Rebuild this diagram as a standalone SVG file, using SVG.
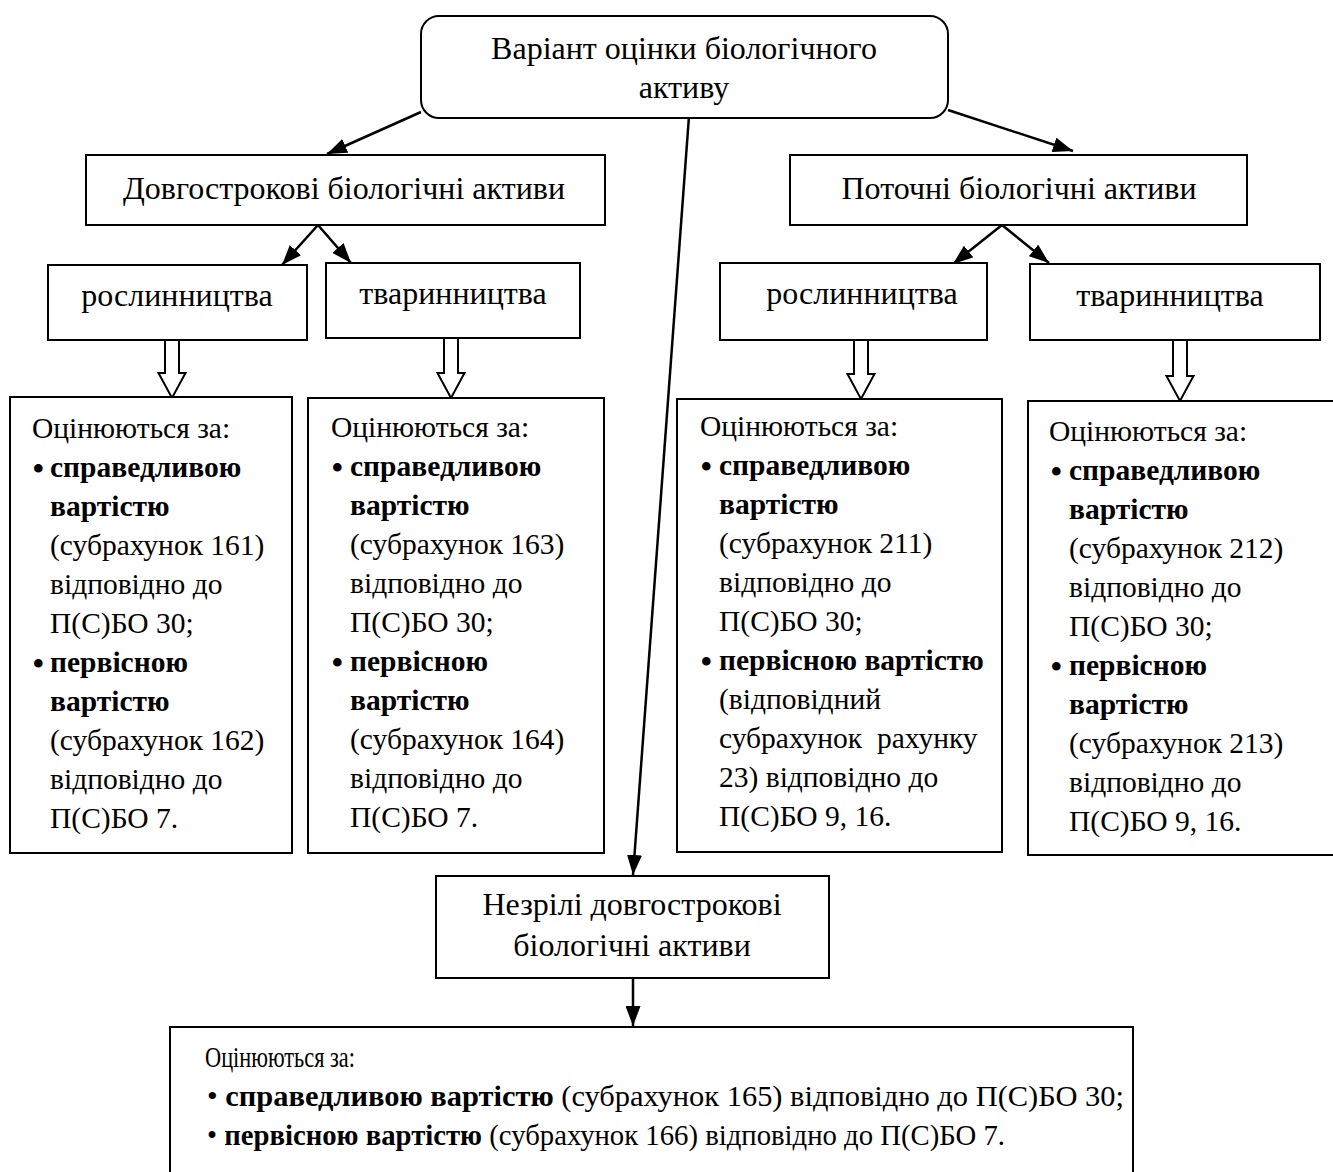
<svg xmlns="http://www.w3.org/2000/svg" width="1333" height="1172" viewBox="0 0 1333 1172">
<defs>
<style>
.box{fill:#fff;stroke:#000;stroke-width:2}
.t{font-family:"Liberation Serif","Times New Roman",serif;fill:#000}
.h{font-size:32px}
.c{font-size:29.5px}
.bu{font-size:36px}
.b{font-weight:bold}
.m{text-anchor:middle}
.ln{stroke:#000;stroke-width:2.5;fill:none}
.ha{fill:#fff;stroke:#000;stroke-width:2}
</style>
<marker id="ah" viewBox="0 0 20 15" refX="20" refY="7.5" markerWidth="20" markerHeight="15" markerUnits="userSpaceOnUse" orient="auto"><path d="M0,0 L20,7.5 L0,15 z" fill="#000"/></marker>
</defs>
<rect width="1333" height="1172" fill="#fff"/>

<g id="connectors">
<line class="ln" x1="421" y1="112" x2="327" y2="154" marker-end="url(#ah)"/>
<line class="ln" x1="948" y1="110" x2="1073" y2="151" marker-end="url(#ah)"/>
<line class="ln" x1="689" y1="116" x2="633" y2="875" marker-end="url(#ah)"/>
<line class="ln" x1="318" y1="225" x2="282" y2="265" marker-end="url(#ah)"/>
<line class="ln" x1="318" y1="225" x2="351" y2="263" marker-end="url(#ah)"/>
<line class="ln" x1="1002" y1="225" x2="953" y2="264" marker-end="url(#ah)"/>
<line class="ln" x1="1002" y1="225" x2="1049" y2="263" marker-end="url(#ah)"/>
<line class="ln" x1="633" y1="978" x2="633" y2="1026" marker-end="url(#ah)"/>
<path class="ha" d="M165,340 V373 H158.5 L172,398 L185.5,373 H179 V340"/>
<path class="ha" d="M444,338 V373 H437.5 L451,398 L464.5,373 H458 V338"/>
<path class="ha" d="M854,340 V374 H847.5 L861,399 L874.5,374 H868 V340"/>
<path class="ha" d="M1173,340 V376 H1166.5 L1180,401 L1193.5,376 H1187 V340"/>
</g>

<g id="root">
<rect class="box" x="421" y="16" width="527" height="102" rx="18"/>
<text class="t h m" x="684" y="59">Варіант оцінки біологічного</text>
<text class="t h m" x="684" y="98">активу</text>
</g>

<g id="long-term">
<rect class="box" x="86" y="155" width="519" height="70"/>
<text class="t h m" x="344" y="199">Довгострокові біологічні активи</text>
</g>

<g id="current">
<rect class="box" x="790" y="155" width="457" height="70"/>
<text class="t h m" x="1019" y="199">Поточні біологічні активи</text>
</g>

<g id="lt-plants">
<rect class="box" x="48" y="265" width="259" height="75"/>
<text class="t h m" x="177" y="306">рослинництва</text>
</g>
<g id="lt-animals">
<rect class="box" x="326" y="263" width="254" height="75"/>
<text class="t h m" x="453" y="304">тваринництва</text>
</g>
<g id="cur-plants">
<rect class="box" x="720" y="263" width="267" height="77"/>
<text class="t h m" x="862" y="304">рослинництва</text>
</g>
<g id="cur-animals">
<rect class="box" x="1030" y="264" width="290" height="76"/>
<text class="t h m" x="1170" y="306">тваринництва</text>
</g>

<g id="lt-plants-eval">
<rect class="box" x="10" y="397" width="282" height="456"/>
<text class="t c" x="32" y="438">Оцінюються за:</text>
<text class="t bu" x="32" y="481">•</text>
<text class="t c b" x="50" y="477">справедливою</text>
<text class="t c b" x="50" y="516">вартістю</text>
<text class="t c" x="50" y="555">(субрахунок 161)</text>
<text class="t c" x="50" y="594">відповідно до</text>
<text class="t c" x="50" y="633">П(С)БО 30;</text>
<text class="t bu" x="32" y="676">•</text>
<text class="t c b" x="50" y="672">первісною</text>
<text class="t c b" x="50" y="711">вартістю</text>
<text class="t c" x="50" y="750">(субрахунок 162)</text>
<text class="t c" x="50" y="789">відповідно до</text>
<text class="t c" x="50" y="828">П(С)БО 7.</text>
</g>

<g id="lt-animals-eval">
<rect class="box" x="308" y="398" width="296" height="455"/>
<text class="t c" x="331" y="437">Оцінюються за:</text>
<text class="t bu" x="331" y="480">•</text>
<text class="t c b" x="350" y="476">справедливою</text>
<text class="t c b" x="350" y="515">вартістю</text>
<text class="t c" x="350" y="554">(субрахунок 163)</text>
<text class="t c" x="350" y="593">відповідно до</text>
<text class="t c" x="350" y="632">П(С)БО 30;</text>
<text class="t bu" x="331" y="675">•</text>
<text class="t c b" x="350" y="671">первісною</text>
<text class="t c b" x="350" y="710">вартістю</text>
<text class="t c" x="350" y="749">(субрахунок 164)</text>
<text class="t c" x="350" y="788">відповідно до</text>
<text class="t c" x="350" y="827">П(С)БО 7.</text>
</g>

<g id="cur-plants-eval">
<rect class="box" x="677" y="399" width="325" height="453"/>
<text class="t c" x="700" y="436">Оцінюються за:</text>
<text class="t bu" x="700" y="479">•</text>
<text class="t c b" x="719" y="475">справедливою</text>
<text class="t c b" x="719" y="514">вартістю</text>
<text class="t c" x="719" y="553">(субрахунок 211)</text>
<text class="t c" x="719" y="592">відповідно до</text>
<text class="t c" x="719" y="631">П(С)БО 30;</text>
<text class="t bu" x="700" y="674">•</text>
<text class="t c b" x="719" y="670">первісною вартістю</text>
<text class="t c" x="719" y="709">(відповідний</text>
<text class="t c" x="719" y="748" xml:space="preserve">субрахунок  рахунку</text>
<text class="t c" x="719" y="787">23) відповідно до</text>
<text class="t c" x="719" y="826">П(С)БО 9, 16.</text>
</g>

<g id="cur-animals-eval">
<rect class="box" x="1028" y="401" width="310" height="454"/>
<text class="t c" x="1049" y="441">Оцінюються за:</text>
<text class="t bu" x="1050" y="484">•</text>
<text class="t c b" x="1069" y="480">справедливою</text>
<text class="t c b" x="1069" y="519">вартістю</text>
<text class="t c" x="1069" y="558">(субрахунок 212)</text>
<text class="t c" x="1069" y="597">відповідно до</text>
<text class="t c" x="1069" y="636">П(С)БО 30;</text>
<text class="t bu" x="1050" y="679">•</text>
<text class="t c b" x="1069" y="675">первісною</text>
<text class="t c b" x="1069" y="714">вартістю</text>
<text class="t c" x="1069" y="753">(субрахунок 213)</text>
<text class="t c" x="1069" y="792">відповідно до</text>
<text class="t c" x="1069" y="831">П(С)БО 9, 16.</text>
</g>

<g id="immature">
<rect class="box" x="436" y="876" width="393" height="102"/>
<text class="t h m" x="632" y="915">Незрілі довгострокові</text>
<text class="t h m" x="632" y="956">біологічні активи</text>
</g>

<g id="immature-eval">
<rect class="box" x="170" y="1027" width="963" height="160"/>
<text class="t c" x="205" y="1067" textLength="150" lengthAdjust="spacingAndGlyphs">Оцінюються за:</text>
<text class="t c" x="207" y="1106" textLength="917" lengthAdjust="spacingAndGlyphs">• <tspan class="b">справедливою вартістю</tspan> (субрахунок 165) відповідно до П(С)БО 30;</text>
<text class="t c" x="207" y="1145" textLength="798" lengthAdjust="spacingAndGlyphs">• <tspan class="b">первісною вартістю</tspan> (субрахунок 166) відповідно до П(С)БО 7.</text>
</g>
</svg>
